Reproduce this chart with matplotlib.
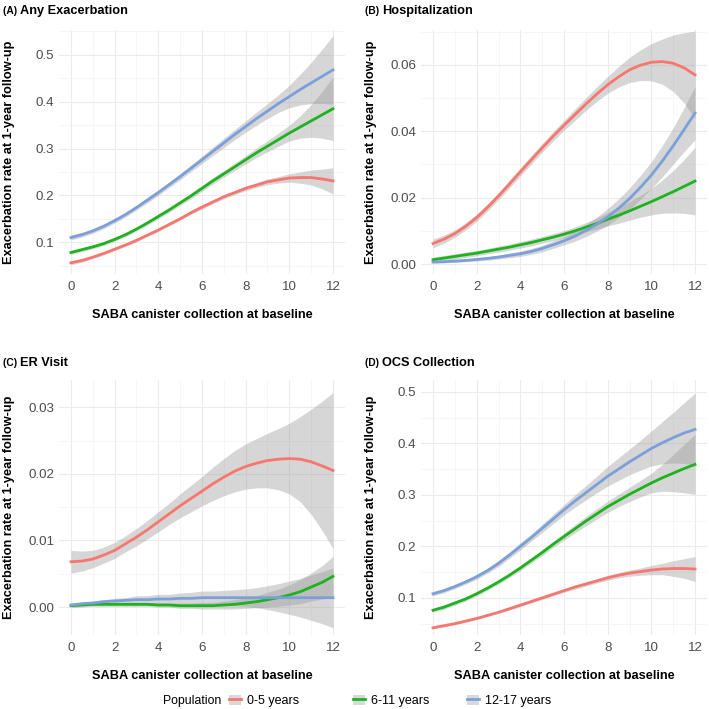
import numpy as np
import matplotlib
matplotlib.use("Agg")
import matplotlib.pyplot as plt
from matplotlib.patches import Patch
from matplotlib.lines import Line2D
from matplotlib.ticker import MultipleLocator, FormatStrFormatter

plt.rcParams['font.family'] = ['Liberation Sans', 'DejaVu Sans']

# SABA canister collection at baseline
saba = [0, 0.5, 1, 1.5, 2, 2.5, 3, 3.5, 4, 4.5, 5, 5.5, 6, 6.5, 7, 7.5, 8, 8.5, 9, 9.5, 10, 10.5, 11, 11.5, 12]
groups = ["0-5 years", "6-11 years", "12-17 years"]
colors = ["#F8766D", "#1DB31D", "#7B9FDC"]

# (A) Any Exacerbation: fitted rate and half width of the grey band
any_0_5 = [0.056, 0.061, 0.068, 0.076, 0.085, 0.094, 0.104, 0.115, 0.126, 0.138, 0.150, 0.163, 0.175,
           0.186, 0.197, 0.206, 0.215, 0.222, 0.229, 0.233, 0.237, 0.238, 0.238, 0.235, 0.231]
any_6_11 = [0.078, 0.084, 0.090, 0.097, 0.106, 0.116, 0.128, 0.141, 0.155, 0.169, 0.184, 0.199, 0.215,
            0.231, 0.246, 0.261, 0.276, 0.291, 0.305, 0.319, 0.333, 0.346, 0.359, 0.372, 0.385]
any_12_17 = [0.110, 0.116, 0.124, 0.134, 0.146, 0.159, 0.174, 0.190, 0.206, 0.223, 0.240, 0.258, 0.276,
             0.294, 0.312, 0.330, 0.347, 0.364, 0.380, 0.396, 0.411, 0.426, 0.440, 0.454, 0.468]
any_0_5_se = [0.004, 0.004, 0.003, 0.003, 0.003, 0.003, 0.003, 0.003, 0.003, 0.003, 0.003, 0.003, 0.004,
              0.004, 0.004, 0.004, 0.005, 0.005, 0.006, 0.007, 0.009, 0.012, 0.016, 0.021, 0.028]
any_6_11_se = [0.004, 0.004, 0.004, 0.004, 0.004, 0.004, 0.004, 0.004, 0.005, 0.005, 0.005, 0.006, 0.006,
               0.007, 0.007, 0.008, 0.009, 0.010, 0.012, 0.014, 0.017, 0.024, 0.035, 0.050, 0.068]
any_12_17_se = [0.005, 0.005, 0.005, 0.005, 0.005, 0.005, 0.005, 0.006, 0.006, 0.006, 0.007, 0.007, 0.008,
                0.009, 0.010, 0.011, 0.012, 0.014, 0.016, 0.019, 0.024, 0.033, 0.044, 0.058, 0.073]

# (B) Hospitalization
hosp_0_5 = [0.0062, 0.0075, 0.0092, 0.0114, 0.0140, 0.0171, 0.0205, 0.0241, 0.0278, 0.0314, 0.0350, 0.0385,
            0.0418, 0.0450, 0.0482, 0.0512, 0.0540, 0.0564, 0.0585, 0.0599, 0.0608, 0.0610, 0.0605, 0.0591, 0.0570]
hosp_6_11 = [0.0013, 0.0018, 0.0023, 0.0028, 0.0033, 0.0039, 0.0045, 0.0051, 0.0058, 0.0065, 0.0073, 0.0081,
             0.0090, 0.0100, 0.0111, 0.0122, 0.0135, 0.0147, 0.0160, 0.0174, 0.0188, 0.0203, 0.0218, 0.0234, 0.0250]
hosp_12_17 = [0.0006, 0.0007, 0.0009, 0.0011, 0.0014, 0.0017, 0.0021, 0.0026, 0.0031, 0.0038, 0.0047, 0.0058,
              0.0070, 0.0084, 0.0101, 0.0120, 0.0142, 0.0168, 0.0197, 0.0231, 0.0268, 0.0310, 0.0356, 0.0405, 0.0455]
hosp_0_5_se = [0.0013, 0.0012, 0.0011, 0.0011, 0.0011, 0.0011, 0.0011, 0.0012, 0.0012, 0.0013, 0.0013, 0.0014,
               0.0015, 0.0017, 0.0019, 0.0022, 0.0025, 0.0031, 0.0038, 0.0046, 0.0056, 0.0068, 0.0085, 0.0106, 0.0132]
hosp_6_11_se = [0.0008, 0.0008, 0.0008, 0.0008, 0.0008, 0.0008, 0.0009, 0.0009, 0.0010, 0.0010, 0.0010, 0.0011,
                0.0011, 0.0012, 0.0014, 0.0017, 0.0020, 0.0024, 0.0028, 0.0033, 0.0040, 0.0050, 0.0064, 0.0081, 0.0102]
hosp_12_17_se = [0.0003, 0.0003, 0.0004, 0.0004, 0.0005, 0.0005, 0.0006, 0.0007, 0.0008, 0.0009, 0.0010, 0.0011,
                 0.0012, 0.0015, 0.0018, 0.0021, 0.0025, 0.0028, 0.0032, 0.0036, 0.0040, 0.0047, 0.0055, 0.0066, 0.0080]

# (C) ER Visit
er_0_5 = [0.0068, 0.0069, 0.0072, 0.0078, 0.0085, 0.0095, 0.0105, 0.0116, 0.0128, 0.0140, 0.0152, 0.0163,
          0.0174, 0.0185, 0.0195, 0.0204, 0.0211, 0.0216, 0.0220, 0.0222, 0.0223, 0.0222, 0.0218, 0.0212, 0.0205]
er_6_11 = [0.0002, 0.0003, 0.0004, 0.0004, 0.0004, 0.0004, 0.0004, 0.0004, 0.0003, 0.0003, 0.0002, 0.0002,
           0.0002, 0.0002, 0.0003, 0.0004, 0.0006, 0.0008, 0.0011, 0.0014, 0.0018, 0.0023, 0.0030, 0.0037, 0.0046]
er_12_17 = [0.0003, 0.0005, 0.0006, 0.0008, 0.0009, 0.0010, 0.0011, 0.0011, 0.0012, 0.0012, 0.0013, 0.0013,
            0.0014, 0.0014, 0.0014, 0.0014, 0.0014, 0.0014, 0.0014, 0.0014, 0.0014, 0.0014, 0.0014, 0.0014, 0.0014]
er_0_5_se = [0.0017, 0.0015, 0.0013, 0.0012, 0.0012, 0.0012, 0.0013, 0.0014, 0.0015, 0.0016, 0.0018, 0.0020,
             0.0022, 0.0025, 0.0028, 0.0031, 0.0034, 0.0037, 0.0041, 0.0046, 0.0053, 0.0064, 0.0079, 0.0097, 0.0117]
er_6_11_se = [0.0003, 0.0003, 0.0003, 0.0003, 0.0003, 0.0003, 0.0003, 0.0003, 0.0003, 0.0003, 0.0004, 0.0004,
              0.0005, 0.0005, 0.0006, 0.0007, 0.0008, 0.0009, 0.0011, 0.0013, 0.0015, 0.0018, 0.0021, 0.0025, 0.0030]
er_12_17_se = [0.0002, 0.0002, 0.0003, 0.0003, 0.0004, 0.0004, 0.0006, 0.0006, 0.0007, 0.0007, 0.0008, 0.0009,
               0.0010, 0.0010, 0.0011, 0.0012, 0.0013, 0.0015, 0.0018, 0.0021, 0.0025, 0.0029, 0.0034, 0.0039, 0.0045]

# (D) OCS Collection
ocs_0_5 = [0.042, 0.046, 0.050, 0.055, 0.060, 0.066, 0.072, 0.079, 0.086, 0.093, 0.100, 0.107, 0.114,
           0.121, 0.127, 0.133, 0.139, 0.144, 0.148, 0.151, 0.154, 0.156, 0.157, 0.157, 0.156]
ocs_6_11 = [0.076, 0.082, 0.090, 0.098, 0.108, 0.119, 0.131, 0.144, 0.158, 0.173, 0.188, 0.204, 0.219,
            0.234, 0.249, 0.263, 0.277, 0.289, 0.301, 0.312, 0.323, 0.333, 0.342, 0.351, 0.359]
ocs_12_17 = [0.108, 0.114, 0.122, 0.131, 0.141, 0.153, 0.167, 0.183, 0.200, 0.217, 0.235, 0.253, 0.271,
             0.288, 0.304, 0.320, 0.336, 0.350, 0.364, 0.377, 0.390, 0.401, 0.411, 0.420, 0.427]
ocs_0_5_se = [0.002, 0.002, 0.002, 0.002, 0.002, 0.002, 0.002, 0.003, 0.003, 0.003, 0.003, 0.003, 0.003,
              0.004, 0.004, 0.004, 0.005, 0.005, 0.006, 0.007, 0.009, 0.011, 0.015, 0.019, 0.024]
ocs_6_11_se = [0.004, 0.004, 0.004, 0.004, 0.004, 0.004, 0.004, 0.004, 0.005, 0.005, 0.006, 0.006, 0.007,
               0.008, 0.009, 0.010, 0.011, 0.012, 0.014, 0.016, 0.019, 0.026, 0.036, 0.047, 0.058]
ocs_12_17_se = [0.004, 0.004, 0.004, 0.004, 0.005, 0.005, 0.006, 0.006, 0.007, 0.007, 0.008, 0.009, 0.010,
                0.012, 0.014, 0.016, 0.019, 0.022, 0.025, 0.029, 0.034, 0.041, 0.049, 0.059, 0.070]

panels = [
    ("(A)", "Any Exacerbation", [any_0_5, any_6_11, any_12_17], [any_0_5_se, any_6_11_se, any_12_17_se],
     (0.032, 0.553), 0.1, "%.1f"),
    ("(B)", "Hospitalization", [hosp_0_5, hosp_6_11, hosp_12_17], [hosp_0_5_se, hosp_6_11_se, hosp_12_17_se],
     (-0.003, 0.0705), 0.02, "%.2f"),
    ("(C)", "ER Visit", [er_0_5, er_6_11, er_12_17], [er_0_5_se, er_6_11_se, er_12_17_se],
     (-0.0042, 0.0341), 0.01, "%.2f"),
    ("(D)", "OCS Collection", [ocs_0_5, ocs_6_11, ocs_12_17], [ocs_0_5_se, ocs_6_11_se, ocs_12_17_se],
     (0.028, 0.523), 0.1, "%.1f"),
]

# axes rectangles in figure fraction (left, bottom, width, height)
rects = [
    (0.0832, 0.6135, 0.4034, 0.3441),
    (0.5938, 0.6135, 0.4034, 0.3441),
    (0.0832, 0.1044, 0.4034, 0.3597),
    (0.5938, 0.1044, 0.4034, 0.3597),
]
title_pos = [(0.004, 0.985), (0.515, 0.985), (0.004, 0.488), (0.515, 0.488)]
xlabel_y = [-0.143, -0.143, -0.137, -0.137]

fig = plt.figure(figsize=(7.09, 7.09), dpi=100)

for (tag, name, series, ses, ylim, ystep, fmt), rect, tpos, xly in zip(panels, rects, title_pos, xlabel_y):
    ax = fig.add_axes(rect)
    x = np.array(saba)
    for vals, se, col in zip(series, ses, colors):
        v = np.array(vals)
        s = np.array(se)
        ax.fill_between(x, v - s, v + s, color="#999999", alpha=0.4, lw=0)
        ax.plot(x, v, color=col, lw=2.0, solid_joinstyle="round")
    ax.set_xlim(-0.55, 12.55)
    ax.set_ylim(*ylim)
    ax.xaxis.set_major_locator(MultipleLocator(2))
    ax.xaxis.set_minor_locator(MultipleLocator(1))
    ax.yaxis.set_major_locator(MultipleLocator(ystep))
    ax.yaxis.set_minor_locator(MultipleLocator(ystep / 2))
    ax.yaxis.set_major_formatter(FormatStrFormatter(fmt))
    ax.grid(which="major", color="#ebebeb", lw=0.8)
    ax.grid(which="minor", color="#f3f3f3", lw=0.5)
    ax.set_axisbelow(True)
    for sp in ax.spines.values():
        sp.set_visible(False)
    ax.tick_params(which="both", length=0, labelsize=9.6, labelcolor="#4d4d4d")
    ax.tick_params(axis="x", pad=5)
    ax.tick_params(axis="y", pad=3.5)
    ax.set_xlabel("SABA canister collection at baseline", fontsize=9.2, fontweight="bold")
    ax.set_ylabel("Exacerbation rate at 1-year follow-up", fontsize=9.2, fontweight="bold")
    ax.xaxis.set_label_coords(0.5, xly)
    ax.yaxis.set_label_coords(-0.155, 0.5)
    t = fig.text(tpos[0], tpos[1], tag + " ", fontsize=7.4, fontweight="bold", va="center", ha="left")
    fig.canvas.draw()
    bb = t.get_window_extent().transformed(fig.transFigure.inverted())
    fig.text(bb.x1, tpos[1], name, fontsize=9.2, fontweight="bold", va="center", ha="left")

# legend: title text plus one entry per population group
leg_y = 0.0113
fig.text(0.230, leg_y, "Population", fontsize=8.8, va="center", ha="left")
key_x = [229 / 709, 353 / 709, 467 / 709]
for grp, col, kx in zip(groups, colors, key_x):
    h = (Patch(facecolor="#d9d9d9", edgecolor="none"), Line2D([], [], color=col, lw=2))
    fig.legend([h], [grp], loc="center left", bbox_to_anchor=(kx, leg_y), frameon=False,
               fontsize=9.0, handlelength=0.95, handleheight=0.95, handletextpad=0.5,
               borderpad=0, borderaxespad=0)

fig.savefig("out.png", dpi=100)
